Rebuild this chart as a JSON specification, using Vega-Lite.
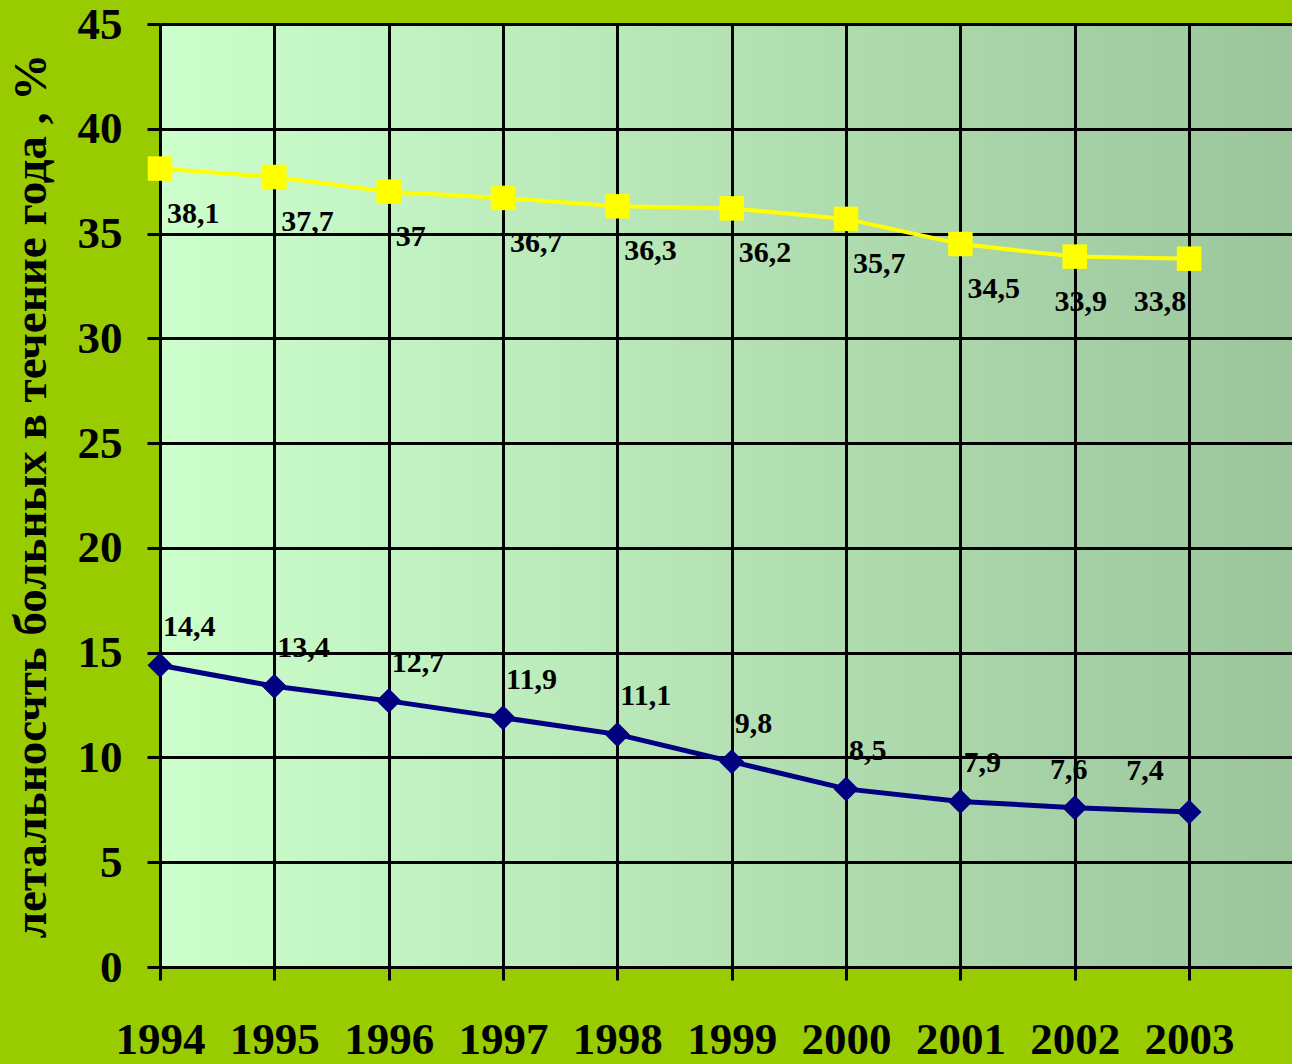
{
  "$schema": "https://vega.github.io/schema/vega-lite/v6.json",
  "autosize": {"type": "none"},
  "padding": {"left": 160, "top": 24, "right": 0, "bottom": 97},
  "width": 1132,
  "height": 943,
  "background": "#99cc00",
  "config": {
    "view": {
      "stroke": null,
      "fill": {"gradient": "linear", "x1": 0, "y1": 0, "x2": 1, "y2": 0, "stops": [{"offset": 0, "color": "#ccffcc"}, {"offset": 1, "color": "#9cc59c"}]}
    },
    "font": "Liberation Serif",
    "text": {"font": "Liberation Serif", "fontWeight": "bold", "fontSize": 30, "color": "#000000"}
  },
  "data": {
    "values": [
      {"year": 1994, "series": "A", "value": 38.1, "label": "38,1"},
      {"year": 1995, "series": "A", "value": 37.7, "label": "37,7"},
      {"year": 1996, "series": "A", "value": 37.0, "label": "37"},
      {"year": 1997, "series": "A", "value": 36.7, "label": "36,7"},
      {"year": 1998, "series": "A", "value": 36.3, "label": "36,3"},
      {"year": 1999, "series": "A", "value": 36.2, "label": "36,2"},
      {"year": 2000, "series": "A", "value": 35.7, "label": "35,7"},
      {"year": 2001, "series": "A", "value": 34.5, "label": "34,5"},
      {"year": 2002, "series": "A", "value": 33.9, "label": "33,9"},
      {"year": 2003, "series": "A", "value": 33.8, "label": "33,8"},
      {"year": 1994, "series": "B", "value": 14.4, "label": "14,4"},
      {"year": 1995, "series": "B", "value": 13.4, "label": "13,4"},
      {"year": 1996, "series": "B", "value": 12.7, "label": "12,7"},
      {"year": 1997, "series": "B", "value": 11.9, "label": "11,9"},
      {"year": 1998, "series": "B", "value": 11.1, "label": "11,1"},
      {"year": 1999, "series": "B", "value": 9.8, "label": "9,8"},
      {"year": 2000, "series": "B", "value": 8.5, "label": "8,5"},
      {"year": 2001, "series": "B", "value": 7.9, "label": "7,9"},
      {"year": 2002, "series": "B", "value": 7.6, "label": "7,6"},
      {"year": 2003, "series": "B", "value": 7.4, "label": "7,4"}
    ]
  },
  "encoding": {
    "x": {
      "field": "year", "type": "quantitative",
      "scale": {"domain": [1994, 2003.9], "nice": false, "zero": false},
      "axis": {
        "values": [1994, 1995, 1996, 1997, 1998, 1999, 2000, 2001, 2002, 2003],
        "format": "d", "title": null,
        "grid": true, "gridColor": "#000000", "gridWidth": 3, "gridOpacity": 1,
        "domainColor": "#000000", "domainWidth": 3,
        "tickColor": "#000000", "tickWidth": 3, "tickSize": 13,
        "labelFont": "Liberation Serif", "labelFontWeight": "bold", "labelFontSize": 45, "labelColor": "#000000",
        "labelPadding": 37, "labelOverlap": false, "labelFlush": false
      }
    },
    "y": {
      "field": "value", "type": "quantitative",
      "scale": {"domain": [0, 45], "nice": false},
      "axis": {
        "values": [0, 5, 10, 15, 20, 25, 30, 35, 40, 45],
        "title": "летальносчть больных  в течение года , %",
        "titleFont": "Liberation Serif", "titleFontWeight": "bold", "titleFontSize": 47, "titleColor": "#000000",
        "titlePadding": 22,
        "grid": true, "gridColor": "#000000", "gridWidth": 3, "gridOpacity": 1,
        "domainColor": "#000000", "domainWidth": 3,
        "tickColor": "#000000", "tickWidth": 3, "tickSize": 13,
        "labelFont": "Liberation Serif", "labelFontWeight": "bold", "labelFontSize": 45, "labelColor": "#000000",
        "labelPadding": 25, "labelOverlap": false, "labelFlush": false
      }
    }
  },
  "layer": [
    {"transform": [{"filter": "datum.series === 'A'"}], "mark": {"type": "line", "color": "#ffff00", "strokeWidth": 4}},
    {"transform": [{"filter": "datum.series === 'A'"}], "mark": {"type": "point", "shape": "square", "filled": true, "size": 600, "color": "#ffff00", "opacity": 1}},
    {"transform": [{"filter": "datum.series === 'B'"}], "mark": {"type": "line", "color": "#000080", "strokeWidth": 5}},
    {"transform": [{"filter": "datum.series === 'B'"}], "mark": {"type": "point", "shape": "diamond", "filled": true, "size": 625, "color": "#000080", "opacity": 1}},
    {"transform": [{"filter": "datum.series === 'A' && datum.year <= 2001"}], "mark": {"type": "text", "align": "left", "baseline": "middle", "dx": 7, "dy": 45}, "encoding": {"text": {"field": "label"}}},
    {"transform": [{"filter": "datum.series === 'A' && datum.year === 2002"}], "mark": {"type": "text", "align": "center", "baseline": "middle", "dx": 6, "dy": 45}, "encoding": {"text": {"field": "label"}}},
    {"transform": [{"filter": "datum.series === 'A' && datum.year === 2003"}], "mark": {"type": "text", "align": "center", "baseline": "middle", "dx": -29, "dy": 43}, "encoding": {"text": {"field": "label"}}},
    {"transform": [{"filter": "datum.series === 'B' && datum.year <= 2001"}], "mark": {"type": "text", "align": "left", "baseline": "middle", "dx": 3, "dy": -38}, "encoding": {"text": {"field": "label"}}},
    {"transform": [{"filter": "datum.series === 'B' && datum.year === 2002"}], "mark": {"type": "text", "align": "center", "baseline": "middle", "dx": -6, "dy": -38}, "encoding": {"text": {"field": "label"}}},
    {"transform": [{"filter": "datum.series === 'B' && datum.year === 2003"}], "mark": {"type": "text", "align": "center", "baseline": "middle", "dx": -44, "dy": -41}, "encoding": {"text": {"field": "label"}}}
  ]
}
